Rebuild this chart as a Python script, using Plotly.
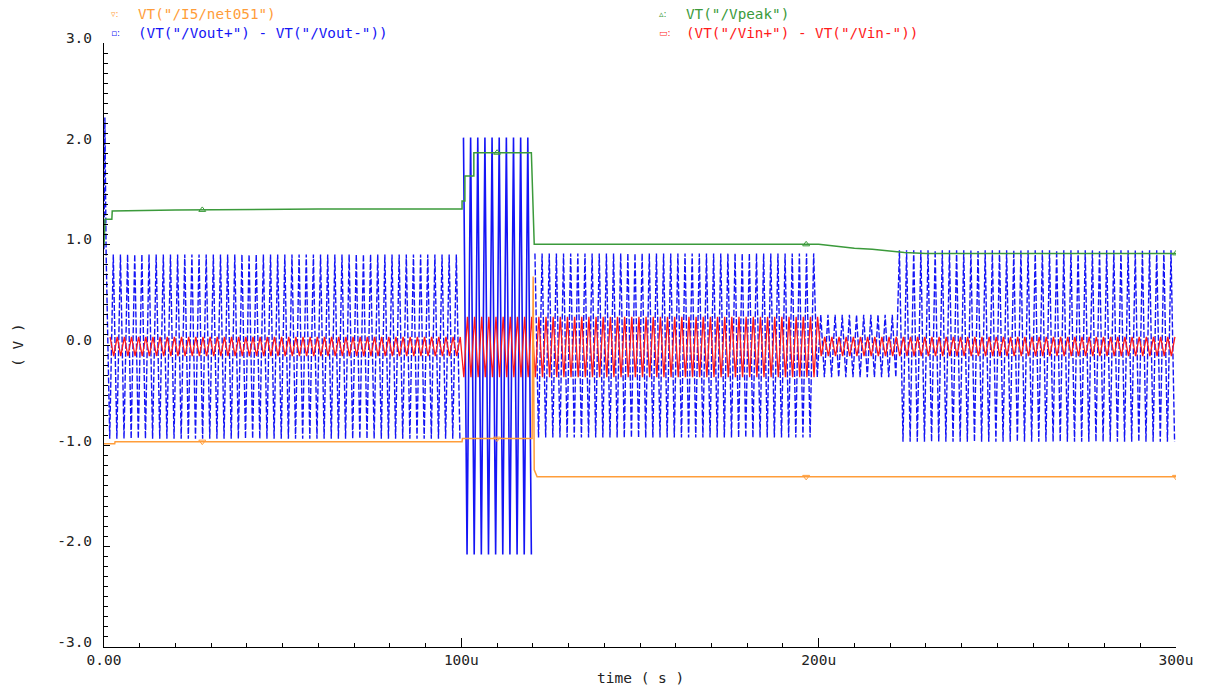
import numpy as np
import plotly.graph_objects as go

# ---- transient waveforms (time in microseconds, voltage in volts) ----
HALF_PERIOD_US = 1.0          # 500 kHz carrier
T_END_US = 300.0

# differential output: peak / trough level per stretch of the run
VOUT_SEG_START_US = [0.0, 100.2, 120.0, 199.6, 222.5]
VOUT_PEAK_V = [0.90, 2.06, 0.91, 0.30, 0.94]
VOUT_TROUGH_V = [-0.93, -2.08, -0.92, -0.32, -0.96]
VOUT_FIRST_PEAK_US = 0.6
VOUT_STARTUP_T_US = [0.0, 0.25]
VOUT_STARTUP_V = [0.95, 2.26]
VOUT_SOLID_WINDOW_US = [100.2, 120.0]

# differential input
VIN_SEG_START_US = [0.0, 100.2, 200.0]
VIN_PEAK_V = [0.08, 0.28, 0.08]
VIN_TROUGH_V = [-0.11, -0.32, -0.11]
VIN_FIRST_PEAK_US = 1.7

# peak detector output
VPEAK_T_US = [0.0, 0.3, 2.2, 2.3, 20.0, 60.0, 99.6, 100.2, 100.2, 101.0, 101.0,
              103.5, 103.5, 119.6, 120.4, 195.0, 200.0, 205.0, 210.0, 215.0,
              220.0, 224.0, 230.0, 300.0]
VPEAK_V = [0.98, 1.25, 1.25, 1.33, 1.34, 1.35, 1.35, 1.35, 1.43, 1.43, 1.68,
           1.68, 1.91, 1.91, 1.00, 1.00, 1.00, 0.98, 0.96, 0.95,
           0.93, 0.92, 0.91, 0.91]

# internal node I5/net051
NET051_T_US = [0.0, 3.0, 3.1, 100.2, 100.3, 119.8, 120.1, 120.4, 121.2, 300.0]
NET051_V = [-0.98, -0.98, -0.96, -0.96, -0.93, -0.93, 0.68, -1.24, -1.31, -1.31]

# positions of the trace symbols drawn along the curves
MARK_T_US = [27.5, 110.0, 196.5, 300.0]

# tick labels
X_TICKS_US = [0, 100, 200, 300]
X_TICK_TEXT = ["0.00", "100u", "200u", "300u"]
Y_TICKS_V = [-3, -2, -1, 0, 1, 2, 3]
Y_TICK_TEXT = ["-3.0", "-2.0", "-1.0", "0.0", "1.0", "2.0", "3.0"]

C_ORANGE = "#ff9d3a"
C_BLUE = "#1515f5"
C_GREEN = "#3b9a3b"
C_RED = "#ff1a1a"
FONT = "DejaVu Sans Mono"


def carrier(seg_start, peaks, troughs, first_peak):
    """Alternate between the stretch's peak and trough level every half period."""
    times, vals = [], []
    t, k = first_peak, 0
    while t <= T_END_US:
        i = max(j for j, s in enumerate(seg_start) if s <= t)
        times.append(t)
        vals.append(peaks[i] if k % 2 == 0 else troughs[i])
        t += HALF_PERIOD_US
        k += 1
    return times, vals


vout_t, vout_v = carrier(VOUT_SEG_START_US, VOUT_PEAK_V, VOUT_TROUGH_V, VOUT_FIRST_PEAK_US)
vout_t = VOUT_STARTUP_T_US + vout_t
vout_v = VOUT_STARTUP_V + vout_v
vin_t, vin_v = carrier(VIN_SEG_START_US, VIN_PEAK_V, VIN_TROUGH_V, VIN_FIRST_PEAK_US)

# split the output into its dashed part and the solid burst window
lo, hi = VOUT_SOLID_WINDOW_US
dash_t, dash_v, solid_t, solid_v = [], [], [], []
for t, v in zip(vout_t, vout_v):
    if lo <= t <= hi:
        solid_t.append(t)
        solid_v.append(v)
        dash_t.append(None)
        dash_v.append(None)
    else:
        dash_t.append(t)
        dash_v.append(v)

fig = go.Figure()

fig.add_trace(go.Scatter(x=dash_t, y=dash_v, mode="lines", connectgaps=False,
                         line=dict(color=C_BLUE, width=1.4, dash="6px,2px"),
                         hoverinfo="skip", showlegend=False))
fig.add_trace(go.Scatter(x=solid_t, y=solid_v, mode="lines",
                         line=dict(color=C_BLUE, width=1.6),
                         hoverinfo="skip", showlegend=False))
fig.add_trace(go.Scatter(x=vin_t, y=vin_v, mode="lines",
                         line=dict(color=C_RED, width=1.3),
                         hoverinfo="skip", showlegend=False))
fig.add_trace(go.Scatter(x=NET051_T_US, y=NET051_V, mode="lines",
                         line=dict(color=C_ORANGE, width=1.5),
                         hoverinfo="skip", showlegend=False))
fig.add_trace(go.Scatter(x=VPEAK_T_US, y=VPEAK_V, mode="lines",
                         line=dict(color=C_GREEN, width=1.5),
                         hoverinfo="skip", showlegend=False))

# trace symbols placed on the curves
fig.add_trace(go.Scatter(x=MARK_T_US, y=np.interp(MARK_T_US, NET051_T_US, NET051_V),
                         mode="markers", hoverinfo="skip", showlegend=False,
                         marker=dict(symbol="triangle-down-open", size=6,
                                     color=C_ORANGE, line=dict(width=1))))
fig.add_trace(go.Scatter(x=MARK_T_US, y=np.interp(MARK_T_US, VPEAK_T_US, VPEAK_V),
                         mode="markers", hoverinfo="skip", showlegend=False,
                         marker=dict(symbol="triangle-up-open", size=6,
                                     color=C_GREEN, line=dict(width=1))))

# plot area in pixels
L, R, T, B = 104, 1176, 43, 647
W, H = 1206, 691


def px(x, y):
    return (x - L) / (R - L), (B - y) / (B - T)


annotations = []
legend_rows = [
    (109, 14, "\u25bf:", "VT(\"/I5/net051\")", C_ORANGE),
    (109, 33, "\u25ab:", "(VT(\"/Vout+\") - VT(\"/Vout-\"))", C_BLUE),
    (657, 14, "\u25b5:", "VT(\"/Vpeak\")", C_GREEN),
    (657, 33, "\u25ad:", "(VT(\"/Vin+\") - VT(\"/Vin-\"))", C_RED),
]
for x0, y0, sym, label, col in legend_rows:
    sx, sy = px(x0, y0)
    annotations.append(dict(x=sx, y=sy, xref="paper", yref="paper", text=sym,
                            showarrow=False, xanchor="left", yanchor="middle",
                            font=dict(family="DejaVu Sans", size=9, color=col)))
    lx, ly = px(x0 + 27, y0)
    annotations.append(dict(x=lx, y=ly, xref="paper", yref="paper", text=label,
                            showarrow=False, xanchor="left", yanchor="middle",
                            font=dict(family=FONT, size=14.3, color=col)))

ax_x, ax_y = px(640, 678)
annotations.append(dict(x=ax_x, y=ax_y, xref="paper", yref="paper", text="time ( s )",
                        showarrow=False, xanchor="center", yanchor="middle",
                        font=dict(family=FONT, size=14.5, color="#222222")))
ay_x, ay_y = px(18, 345)
annotations.append(dict(x=ay_x, y=ay_y, xref="paper", yref="paper", text="( V )",
                        showarrow=False, xanchor="center", yanchor="middle", textangle=-90,
                        font=dict(family=FONT, size=14.5, color="#222222")))

fig.update_layout(
    width=W, height=H,
    margin=dict(l=L, r=W - R, t=T, b=H - B, pad=0),
    paper_bgcolor="white", plot_bgcolor="white",
    showlegend=False,
    annotations=annotations,
    xaxis=dict(range=[0, T_END_US], showgrid=False, zeroline=False,
               showline=True, linecolor="black", linewidth=1,
               tickmode="array", tickvals=X_TICKS_US, ticktext=X_TICK_TEXT,
               ticks="inside", ticklen=9, tickcolor="black", tickwidth=1,
               minor=dict(dtick=10, ticks="inside", ticklen=4, tickcolor="black",
                          showgrid=False),
               tickfont=dict(family=FONT, size=14.5, color="#222222")),
    yaxis=dict(range=[-3, 3], showgrid=False, zeroline=False,
               showline=True, linecolor="black", linewidth=1,
               tickmode="array", tickvals=Y_TICKS_V, ticktext=Y_TICK_TEXT,
               ticks="inside", ticklen=6, tickcolor="black", tickwidth=1,
               minor=dict(dtick=0.1, tick0=0, ticks="inside", ticklen=4,
                          tickcolor="black", showgrid=False),
               ticklabelstandoff=8, ticklabelshift=-5,
               tickfont=dict(family=FONT, size=14.5, color="#222222")),
)

fig.write_html("out.html")
